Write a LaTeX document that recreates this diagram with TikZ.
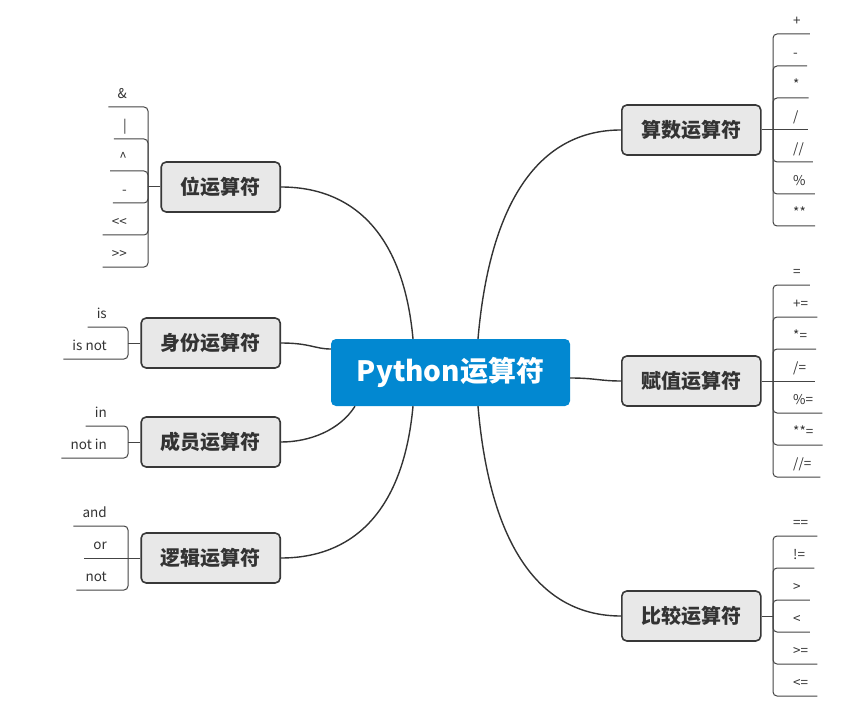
\documentclass[tikz,border=0pt]{standalone}
\usepackage{fontspec}
\setmainfont{Noto Sans CJK SC}
\definecolor{cblue}{HTML}{0288D1}
\definecolor{boxfill}{HTML}{E8E8E8}
\definecolor{boxline}{HTML}{383838}
\definecolor{lineC}{HTML}{333333}
\definecolor{leafC}{HTML}{444444}
\definecolor{txt}{HTML}{333333}
\newcommand{\leaffont}{\fontsize{13.5}{14}\selectfont}
\tikzset{
  conn/.style={draw=lineC, line width=1.4pt},
  leafconn/.style={draw=leafC, line width=1pt, rounded corners=4pt},
  rootbox/.style={fill=cblue, text=white, rounded corners=5pt, minimum width=239pt,
    minimum height=67pt, inner sep=0pt, font=\bfseries\fontsize{28}{28}\selectfont},
  subbox/.style={draw=boxline, line width=1.6pt, fill=boxfill, rounded corners=5pt,
    minimum width=139pt, minimum height=50pt, inner sep=0pt, text=txt,
    font=\bfseries\fontsize{20}{20}\selectfont},
  leafR/.style={anchor=south west, inner xsep=9pt, inner ysep=8.5pt, text depth=0pt,
    font=\leaffont, text=txt},
  leafL/.style={anchor=south east, inner xsep=9pt, inner ysep=8.5pt, text depth=0pt,
    font=\leaffont, text=txt}
}
\begin{document}
\begin{tikzpicture}[x=1pt, y=-1pt]
\useasboundingbox (0,0) rectangle (862,714);

% root
\node[rootbox] (root) at (450.5,372.5) {Python运算符};

% right children
\node[subbox, anchor=west] (s1) at (621,130) {算数运算符};
\node[subbox, anchor=west] (s2) at (621,381) {赋值运算符};
\node[subbox, anchor=west] (s3) at (621,616) {比较运算符};
% left children
\node[subbox, anchor=east, minimum width=119pt] (l1) at (281,187) {位运算符};
\node[subbox, anchor=east] (l2) at (281,343) {身份运算符};
\node[subbox, anchor=east] (l3) at (281,442) {成员运算符};
\node[subbox, anchor=east] (l4) at (281,558) {逻辑运算符};

% main connectors
\draw[conn] ([xshift=27.5pt]root.north) .. controls (490,200) and (540,130) .. (s1.west);
\draw[conn] ([yshift=-5.5pt]root.east) .. controls (595,378) and (600,381) .. (s2.west);
\draw[conn] ([xshift=27.5pt]root.south) .. controls (490,546) and (540,616) .. (s3.west);
\draw[conn] ([xshift=-37.5pt]root.north) .. controls (403,230) and (350,187) .. (l1.east);
\draw[conn] ([yshift=23.5pt]root.west) .. controls (315,349) and (310,343) .. (l2.east);
\draw[conn] ([xshift=-95.5pt]root.south) .. controls (340,430) and (310,442) .. (l3.east);
\draw[conn] ([xshift=-37.5pt]root.south) .. controls (403,515) and (350,558) .. (l4.east);

% bracket points
\coordinate (b1) at (773,130);
\coordinate (b2) at (773,381);
\coordinate (b3) at (773,616);
\coordinate (b4) at (148,187);
\coordinate (b5) at (128,343);
\coordinate (b6) at (128,442);
\coordinate (b7) at (128,558);

% group 1: arithmetic
\node[leafR] (a1) at (784,34) {+};
\node[leafR] (a2) at (784,66) {-};
\node[leafR] (a3) at (784,98) {*};
\node[leafR] (a4) at (784,130) {/};
\node[leafR] (a5) at (784,162) {//};
\node[leafR] (a6) at (784,194) {\%};
\node[leafR] (a7) at (784,226) {**};
\draw[leafconn] (s1.east) -- (b1);
\foreach \n in {a1,a2,a3,a5,a6,a7} \draw[leafconn] (b1) |- (\n.south east);
\draw[leafconn] (b1) -- (a4.south east);

% group 2: assignment
\node[leafR] (c1) at (784,285) {=};
\node[leafR] (c2) at (784,317) {+=};
\node[leafR] (c3) at (784,349) {*=};
\node[leafR] (c4) at (784,381) {/=};
\node[leafR] (c5) at (784,413) {\%=};
\node[leafR] (c6) at (784,445) {**=};
\node[leafR] (c7) at (784,477) {//=};
\draw[leafconn] (s2.east) -- (b2);
\foreach \n in {c1,c2,c3,c5,c6,c7} \draw[leafconn] (b2) |- (\n.south east);
\draw[leafconn] (b2) -- (c4.south east);

% group 3: comparison
\node[leafR] (d1) at (784,536) {==};
\node[leafR] (d2) at (784,568) {!=};
\node[leafR] (d3) at (784,600) {>};
\node[leafR] (d4) at (784,632) {<};
\node[leafR] (d5) at (784,664) {>=};
\node[leafR] (d6) at (784,696) {<=};
\draw[leafconn] (s3.east) -- (b3);
\foreach \n in {d1,d2,d3,d4,d5,d6} \draw[leafconn] (b3) |- (\n.south east);

% group 4: bitwise
\node[leafL] (e1) at (136,107) {\&};
\node[leafL] (e2) at (136,139) {|};
\node[leafL] (e3) at (136,171) {\textasciicircum};
\node[leafL] (e4) at (136,203) {-};
\node[leafL] (e5) at (136,235) {<\kern0pt<};
\node[leafL] (e6) at (136,267) {>\kern0pt>};
\draw[leafconn] (l1.west) -- (b4);
\foreach \n in {e1,e2,e3,e4,e5,e6} \draw[leafconn] (b4) |- (\n.south west);

% group 5: identity
\node[leafL] (f1) at (116,327) {is};
\node[leafL] (f2) at (116,359) {is not};
\draw[leafconn] (l2.west) -- (b5);
\foreach \n in {f1,f2} \draw[leafconn] (b5) |- (\n.south west);

% group 6: membership
\node[leafL] (g1) at (116,426) {in};
\node[leafL] (g2) at (116,458) {not in};
\draw[leafconn] (l3.west) -- (b6);
\foreach \n in {g1,g2} \draw[leafconn] (b6) |- (\n.south west);

% group 7: logical
\node[leafL] (h1) at (116,526) {and};
\node[leafL] (h2) at (116,558) {or};
\node[leafL] (h3) at (116,590) {not};
\draw[leafconn] (l4.west) -- (b7);
\foreach \n in {h1,h3} \draw[leafconn] (b7) |- (\n.south west);
\draw[leafconn] (b7) -- (h2.south west);
\end{tikzpicture}
\end{document}
